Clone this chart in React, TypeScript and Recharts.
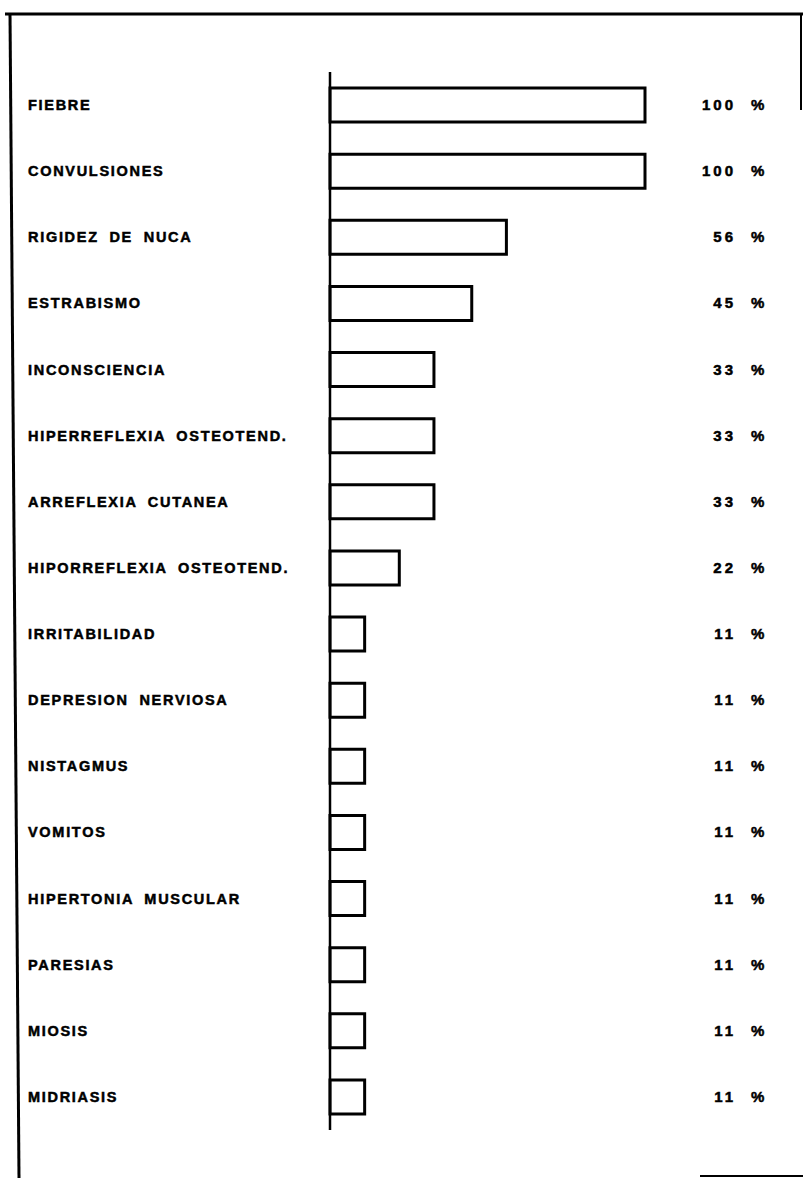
import React from "react";
import { BarChart, Bar, XAxis, YAxis, LabelList } from "recharts";

const categories = [
  "FIEBRE",
  "CONVULSIONES",
  "RIGIDEZ DE NUCA",
  "ESTRABISMO",
  "INCONSCIENCIA",
  "HIPERREFLEXIA OSTEOTEND.",
  "ARREFLEXIA CUTANEA",
  "HIPORREFLEXIA OSTEOTEND.",
  "IRRITABILIDAD",
  "DEPRESION NERVIOSA",
  "NISTAGMUS",
  "VOMITOS",
  "HIPERTONIA MUSCULAR",
  "PARESIAS",
  "MIOSIS",
  "MIDRIASIS",
];

const percentages = [100, 100, 56, 45, 33, 33, 33, 22, 11, 11, 11, 11, 11, 11, 11, 11];

const data = categories.map((name, i) => ({ name, value: percentages[i] }));

const FONT = "'Liberation Sans', Arial, sans-serif";

const LabelTick = (props: any) => {
  const { y, payload } = props;
  return (
    <text
      x={28}
      y={y}
      dy={5}
      textAnchor="start"
      fontFamily={FONT}
      fontWeight="bold"
      fontSize={14.5}
      letterSpacing={1.7}
      wordSpacing={5}
      fill="#000"
      stroke="#000"
      strokeWidth={0.5}
    >
      {payload.value}
    </text>
  );
};

const PctLabel = (props: any) => {
  const { y, height, value } = props;
  const cy = y + height / 2 + 5;
  return (
    <g>
      <text
        x={736}
        y={cy}
        textAnchor="end"
        fontFamily={FONT}
        fontWeight="bold"
        fontSize={15}
        letterSpacing={3}
        fill="#000"
        stroke="#000"
        strokeWidth={0.5}
      >
        {value}
      </text>
      <text
        x={751}
        y={cy}
        textAnchor="start"
        fontFamily={FONT}
        fontWeight="bold"
        fontSize={15}
        fill="#000"
        stroke="#000"
        strokeWidth={0.5}
      >
        %
      </text>
    </g>
  );
};

export default function App() {
  return (
    <div style={{ position: "relative", width: 803, height: 1178, background: "#fff" }}>
      <style>{"body{margin:0;background:#fff;}"}</style>
      <BarChart
        width={803}
        height={1178}
        data={data}
        layout="vertical"
        margin={{ top: 72, right: 158, bottom: 48, left: 0 }}
        barCategoryGap={0}
      >
        <XAxis type="number" domain={[0, 100]} hide />
        <YAxis
          type="category"
          dataKey="name"
          width={330}
          axisLine={{ stroke: "#000", strokeWidth: 2.5 }}
          tickLine={false}
          tick={<LabelTick />}
          interval={0}
        />
        <Bar
          dataKey="value"
          fill="#fff"
          stroke="#000"
          strokeWidth={3}
          barSize={34}
          isAnimationActive={false}
        >
          <LabelList dataKey="value" content={<PctLabel />} />
        </Bar>
      </BarChart>
      <svg
        width={803}
        height={1178}
        style={{ position: "absolute", left: 0, top: 0, pointerEvents: "none" }}
      >
        <line x1={5} y1={14} x2={803} y2={14} stroke="#000" strokeWidth={3} />
        <line x1={10} y1={13} x2={19} y2={1178} stroke="#000" strokeWidth={3} />
        <line x1={801} y1={13} x2={801} y2={110} stroke="#000" strokeWidth={2} />
        <line x1={700} y1={1176} x2={803} y2={1176} stroke="#000" strokeWidth={2} />
      </svg>
    </div>
  );
}
